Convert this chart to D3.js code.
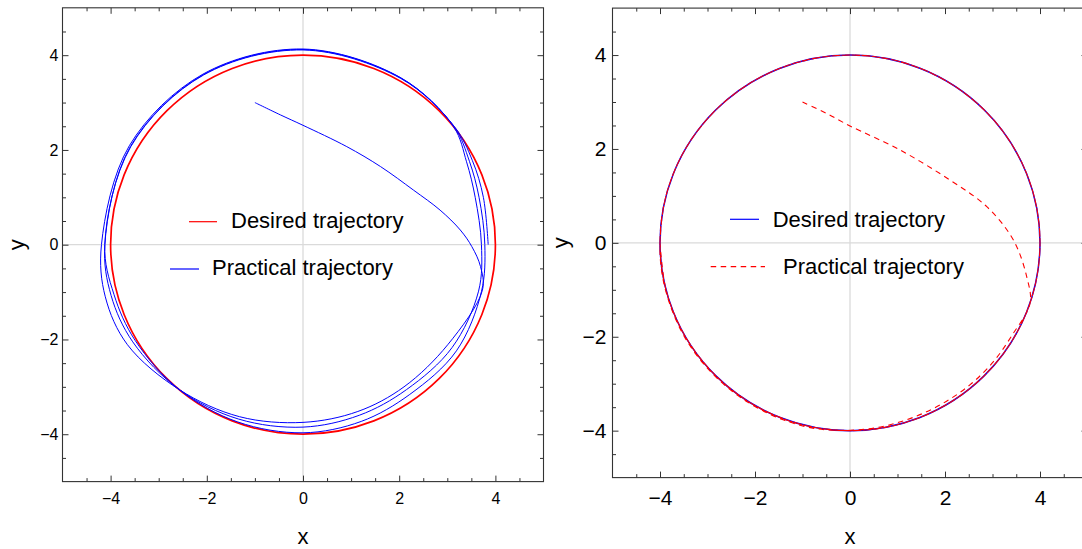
<!DOCTYPE html>
<html><head><meta charset="utf-8">
<script src="https://cdn.jsdelivr.net/npm/d3@7"></script>
<style>
body{margin:0;background:#fff}
svg{display:block}
text{font-family:"Liberation Sans",Arial,Helvetica,sans-serif}
</style>
</head><body>
<svg id="c" width="1082" height="549"></svg>
<script>
// ---------- data ----------
const majorTicks = [-4, -2, 0, 2, 4];
const minorTicks = [-4.5, -3.5, -3, -2.5, -1.5, -1, -0.5, 0.5, 1, 1.5, 2.5, 3, 3.5, 4.5];
const axisDomain = [-5, 5];
const legendLabels = ["Desired trajectory", "Practical trajectory"];
const axisTitles = ["x", "y"];

// desired trajectory: circle of radius 4 about the origin
const desiredCenter = [0, 0];
const desiredRadius = 4;

// practical trajectory, left panel
const practicalLeft = [
  [-1.00, 3.00], [-0.47, 2.74], [0.00, 2.52], [0.91, 2.07], [1.61, 1.65], [2.30, 1.15],
  [2.85, 0.73], [3.27, 0.31], [3.51, -0.04], [3.69, -0.46], [3.73, -0.96],
  // loop 1
  [3.01, -2.11], [2.10, -3.00], [1.14, -3.52], [0.00, -3.75], [-1.32, -3.63], [-2.57, -3.06],
  [-3.65, -2.11], [-4.11, -1.10], [-4.19, 0.00], [-3.61, 2.09], [-2.08, 3.60], [0.00, 4.13],
  [2.04, 3.52], [3.13, 2.49], [3.40, 1.75], [3.58, 1.00], [3.71, 0.00], [3.65, -0.98],
  // loop 2
  [3.10, -2.17], [2.15, -3.06], [1.17, -3.60], [0.00, -3.85], [-1.34, -3.68], [-2.57, -3.06],
  [-3.54, -2.05], [-3.99, -1.07], [-4.12, 0.00], [-3.59, 2.07], [-2.07, 3.59], [0.00, 4.12],
  [2.03, 3.52], [3.14, 2.49], [3.46, 1.76], [3.66, 1.00], [3.78, 0.00], [3.71, -0.99],
  // loop 3
  [3.19, -2.24], [2.22, -3.16], [1.21, -3.73], [0.00, -3.97], [-1.36, -3.74], [-2.57, -3.06],
  [-3.49, -2.02], [-3.93, -1.05], [-4.12, 0.00], [-3.58, 2.07], [-2.07, 3.58], [0.00, 4.11],
  [2.03, 3.51], [3.15, 2.49], [3.52, 1.78], [3.75, 1.00], [3.85, 0.00]
];

// practical trajectory, right panel
const practicalRight = [
  [-1.00, 3.00], [-0.50, 2.76], [0.00, 2.49], [1.05, 1.98], [2.10, 1.34], [2.88, 0.77],
  [3.44, 0.06], [3.72, -0.72], [3.79, -1.29], [3.41, -1.97], [3.02, -2.53], [2.53, -3.02],
  [1.97, -3.41], [1.35, -3.71], [0.69, -3.91], [0.00, -3.99], [-0.70, -3.96], [-1.38, -3.78],
  [-2.01, -3.48], [-2.58, -3.08], [-3.08, -2.58], [-3.48, -2.01], [-3.77, -1.37], [-3.95, -0.70],
  [-4.00, 0.00], [-3.864, 1.035], [-3.464, 2.000], [-2.828, 2.828], [-2.000, 3.464], [-1.035, 3.864],
  [0.000, 4.000], [1.035, 3.864], [2.000, 3.464], [2.828, 2.828], [3.464, 2.000], [3.864, 1.035],
  [4.000, 0.000], [3.864, -1.035], [3.464, -2.000], [2.828, -2.828], [2.000, -3.464], [1.035, -3.864],
  [0.000, -4.000], [-1.035, -3.864], [-2.000, -3.464], [-2.828, -2.828], [-3.464, -2.000], [-3.864, -1.035],
  [-4.000, 0.000], [-3.864, 1.035], [-3.464, 2.000], [-2.828, 2.828], [-2.000, 3.464], [-1.035, 3.864],
  [0.000, 4.000], [1.035, 3.864], [2.000, 3.464], [2.828, 2.828], [3.464, 2.000], [3.864, 1.035],
  [4.000, 0.000], [3.864, -1.035], [3.464, -2.000], [2.828, -2.828], [2.000, -3.464], [1.035, -3.864],
  [0.000, -4.000], [-1.035, -3.864], [-2.000, -3.464], [-2.828, -2.828], [-3.464, -2.000], [-3.864, -1.035],
  [-4.000, 0.000]
];

// ---------- drawing ----------
const svg = d3.select("#c");

function drawPanel(cfg) {
  const x = d3.scaleLinear().domain(axisDomain).range([cfg.left, cfg.right]);
  const y = d3.scaleLinear().domain(axisDomain).range([cfg.bottom, cfg.top]);
  const g = svg.append("g");

  svg.append("clipPath").attr("id", cfg.id)
    .append("rect").attr("x", cfg.left).attr("y", cfg.top)
    .attr("width", cfg.right - cfg.left).attr("height", cfg.bottom - cfg.top);

  // zero grid lines
  g.append("line").attr("x1", x(0)).attr("x2", x(0)).attr("y1", cfg.top).attr("y2", cfg.bottom)
    .attr("stroke", "#dadada").attr("stroke-width", 1.3);
  g.append("line").attr("x1", cfg.left).attr("x2", cfg.right).attr("y1", y(0)).attr("y2", y(0))
    .attr("stroke", "#dadada").attr("stroke-width", 1.3);

  const plot = g.append("g").attr("clip-path", `url(#${cfg.id})`);
  plot.append("ellipse")
    .attr("cx", x(desiredCenter[0])).attr("cy", y(desiredCenter[1]))
    .attr("rx", x(desiredRadius) - x(0)).attr("ry", y(0) - y(desiredRadius))
    .attr("fill", "none").attr("stroke", cfg.desiredColor).attr("stroke-width", cfg.desiredWidth);

  const line = d3.line().x(d => x(d[0])).y(d => y(d[1])).curve(d3.curveCatmullRom.alpha(0.5));
  plot.append("path").datum(cfg.practical).attr("d", line)
    .attr("fill", "none").attr("stroke", cfg.practicalColor).attr("stroke-width", cfg.practicalWidth)
    .attr("stroke-dasharray", cfg.dash || null);

  // axes
  const style = (sel, fs) => {
    sel.select(".domain").remove();
    sel.attr("font-size", fs).attr("font-family", '"Liberation Sans",Arial,sans-serif').attr("color", "#333");
    sel.selectAll("text").attr("fill", "#000");
  };
  const fmt = d3.format("d");
  g.append("g").attr("transform", `translate(0,${cfg.bottom})`)
    .call(d3.axisBottom(x).tickValues(majorTicks).tickSize(-6).tickPadding(cfg.xPad).tickFormat(fmt))
    .call(s => style(s, cfg.tickFont));
  g.append("g").attr("transform", `translate(0,${cfg.bottom})`)
    .call(d3.axisBottom(x).tickValues(minorTicks).tickSize(-3.5).tickFormat(""))
    .call(s => style(s, cfg.tickFont));
  g.append("g").attr("transform", `translate(0,${cfg.top})`)
    .call(d3.axisTop(x).tickValues(majorTicks).tickSize(-6).tickFormat(""))
    .call(s => style(s, cfg.tickFont));
  g.append("g").attr("transform", `translate(0,${cfg.top})`)
    .call(d3.axisTop(x).tickValues(minorTicks).tickSize(-3.5).tickFormat(""))
    .call(s => style(s, cfg.tickFont));
  g.append("g").attr("transform", `translate(${cfg.left},0)`)
    .call(d3.axisLeft(y).tickValues(majorTicks).tickSize(-6).tickPadding(cfg.yPad).tickFormat(fmt))
    .call(s => style(s, cfg.tickFont));
  g.append("g").attr("transform", `translate(${cfg.left},0)`)
    .call(d3.axisLeft(y).tickValues(minorTicks).tickSize(-3.5).tickFormat(""))
    .call(s => style(s, cfg.tickFont));
  g.append("g").attr("transform", `translate(${cfg.right},0)`)
    .call(d3.axisRight(y).tickValues(majorTicks).tickSize(-6).tickFormat(""))
    .call(s => style(s, cfg.tickFont));
  g.append("g").attr("transform", `translate(${cfg.right},0)`)
    .call(d3.axisRight(y).tickValues(minorTicks).tickSize(-3.5).tickFormat(""))
    .call(s => style(s, cfg.tickFont));

  // frame
  g.append("rect").attr("x", cfg.left).attr("y", cfg.top)
    .attr("width", cfg.right - cfg.left).attr("height", cfg.bottom - cfg.top)
    .attr("fill", "none").attr("stroke", "#333").attr("stroke-width", 1.1);

  // axis titles
  g.append("text").attr("x", x(0)).attr("y", 544).attr("text-anchor", "middle")
    .attr("font-size", cfg.titleFont).text(axisTitles[0]);
  g.append("text").attr("transform", `translate(${cfg.yTitleX},${y(0)}) rotate(-90)`)
    .attr("text-anchor", "middle").attr("dy", "0.32em")
    .attr("font-size", cfg.titleFont).text(axisTitles[1]);

  // legend
  const L = cfg.legend;
  g.append("line").attr("x1", L[0].x1).attr("x2", L[0].x2).attr("y1", L[0].ly).attr("y2", L[0].ly)
    .attr("stroke", cfg.desiredColor).attr("stroke-width", 1.2);
  g.append("text").attr("x", L[0].tx).attr("y", L[0].ty).attr("font-size", 22).text(legendLabels[0]);
  g.append("line").attr("x1", L[1].x1).attr("x2", L[1].x2).attr("y1", L[1].ly).attr("y2", L[1].ly)
    .attr("stroke", cfg.practicalColor).attr("stroke-width", 1.2)
    .attr("stroke-dasharray", cfg.dash || null);
  g.append("text").attr("x", L[1].tx).attr("y", L[1].ty).attr("font-size", 22).text(legendLabels[1]);
}

drawPanel({
  id: "clipL", left: 62.5, right: 543.5, top: 7.8, bottom: 481.6,
  desiredColor: "#ff0000", desiredWidth: 1.7,
  practicalColor: "#0000ff", practicalWidth: 1.0,
  practical: practicalLeft,
  tickFont: 16, xPad: 11.5, yPad: 4, titleFont: 22, yTitleX: 17,
  legend: [
    {x1: 189, x2: 217, ly: 221.7, tx: 231, ty: 228.3},
    {x1: 170, x2: 199, ly: 269, tx: 212, ty: 275}
  ]
});

drawPanel({
  id: "clipR", left: 612.5, right: 1087.5, top: 8.1, bottom: 477.6,
  desiredColor: "#0000ff", desiredWidth: 1.5,
  practicalColor: "#ff0000", practicalWidth: 1.1, dash: "5.5,4.5",
  practical: practicalRight,
  tickFont: 21, xPad: 12.5, yPad: 6, titleFont: 22, yTitleX: 561,
  legend: [
    {x1: 730, x2: 759, ly: 219.3, tx: 772.7, ty: 226.7},
    {x1: 710.7, x2: 765, ly: 266.7, tx: 783, ty: 274}
  ]
});
</script>
</body></html>
